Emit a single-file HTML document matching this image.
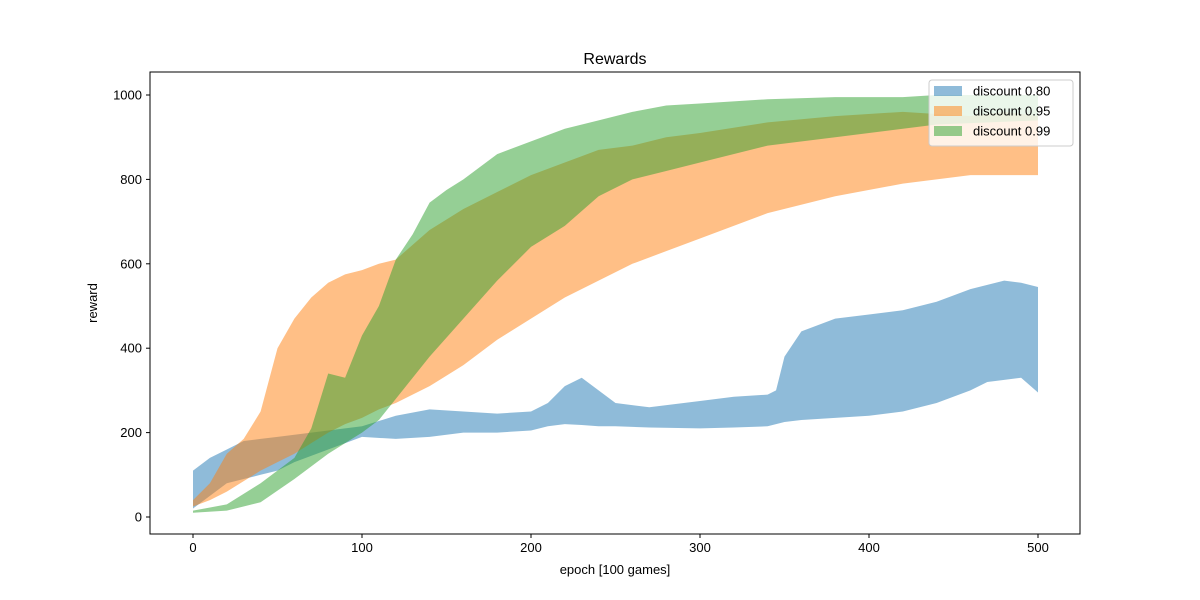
<!DOCTYPE html>
<html><head><meta charset="utf-8"><title>Rewards</title>
<style>
html,body{margin:0;padding:0;background:#fff;}
svg{display:block;font-family:"Liberation Sans","DejaVu Sans",sans-serif;}
</style></head>
<body>
<svg id="chart" width="1200" height="600" viewBox="0 0 1200 600"></svg>
<script>
const xTicks = [0,100,200,300,400,500];
const yTicks = [0,200,400,600,800,1000];
const seriesNames = ["discount 0.80","discount 0.95","discount 0.99"];
const blueX = [0,10,20,30,40,50,60,80,100,120,140,160,180,200,210,220,230,240,250,270,300,320,340,345,350,360,380,400,420,440,460,470,480,490,500];
const blueUpper = [110,140,160,180,185,190,195,205,215,240,255,250,245,250,270,310,330,300,270,260,275,285,290,300,380,440,470,480,490,510,540,550,560,555,545];
const blueLower = [20,50,80,90,100,110,130,160,190,185,190,200,200,205,215,220,218,215,215,212,210,212,215,220,225,230,235,240,250,270,300,320,325,330,295];
const orangeX = [0,10,20,30,40,50,60,70,80,90,100,110,120,140,160,180,200,220,240,260,280,300,340,380,420,460,480,500];
const orangeUpper = [40,80,150,185,250,400,470,520,555,575,585,600,610,680,730,770,810,840,870,880,900,910,935,950,960,950,960,950];
const orangeLower = [25,40,60,85,110,130,150,175,200,220,235,255,270,310,360,420,470,520,560,600,630,660,720,760,790,810,810,810];
const greenX = [0,20,40,60,70,80,90,100,110,120,130,140,150,160,180,200,220,240,260,280,300,340,380,420,440,500];
const greenUpper = [15,30,80,140,210,340,330,430,500,610,670,745,775,800,860,890,920,940,960,975,980,990,995,995,1000,1000];
const greenLower = [10,15,35,90,120,150,175,200,230,280,330,380,425,470,560,640,690,760,800,820,840,880,900,920,930,940];

const NS="http://www.w3.org/2000/svg";
const svg=document.getElementById('chart');
const L=150,R=1080,T=72,B=534;
const sx=v=>193+v*(1038-193)/500;
const sy=v=>517-v*(517-95)/1000;
function el(tag,attrs,parent){const e=document.createElementNS(NS,tag);for(const k in attrs)e.setAttribute(k,attrs[k]);(parent||svg).appendChild(e);return e;}

const bands=[[blueX,blueUpper,blueLower,"#1f77b4"],[orangeX,orangeUpper,orangeLower,"#ff7f0e"],[greenX,greenUpper,greenLower,"#2ca02c"]];
bands.forEach((b,i)=>{
  const [xs,up,lo,c]=b;
  let d="M"+xs.map((x,j)=>sx(x)+","+sy(up[j])).join("L");
  for(let j=xs.length-1;j>=0;j--) d+="L"+sx(xs[j])+","+sy(lo[j]);
  d+="Z";
  const p=el('path',{d:d,fill:c,'fill-opacity':0.5,stroke:'none'});
  
  
});

const frame=el('rect',{x:L,y:T,width:R-L,height:B-T,fill:'none',stroke:'#000','stroke-width':1});



xTicks.forEach(v=>{
  el('line',{x1:sx(v),x2:sx(v),y1:B,y2:B+4,stroke:'#000'});
  const t=el('text',{x:sx(v),y:B+18,'text-anchor':'middle','font-size':13});
  t.textContent=v;
  
  
});
yTicks.forEach(v=>{
  el('line',{x1:L-4,x2:L,y1:sy(v),y2:sy(v),stroke:'#000'});
  const t=el('text',{x:L-8,y:sy(v)+4.5,'text-anchor':'end','font-size':13});
  t.textContent=v;
  
  
});

const title=el('text',{x:615,y:64,'text-anchor':'middle','font-size':16});
title.textContent="Rewards";


const xl=el('text',{x:615,y:574,'text-anchor':'middle','font-size':13});
xl.textContent="epoch [100 games]";


const yl=el('text',{x:97,y:303,'text-anchor':'middle','font-size':13,transform:'rotate(-90 97 303)'});
yl.textContent="reward";



const lg=el('g',{});


el('rect',{x:929,y:80,width:144,height:66,rx:3,fill:'#fff','fill-opacity':0.8,stroke:'#ccc'},lg);
seriesNames.forEach((n,i)=>{
  const y=91+i*20;
  const r=el('rect',{x:934,y:y-5,width:28,height:10,fill:bands[i][3],'fill-opacity':0.5},lg);
  
  
  const t=el('text',{x:973,y:y+4.5,'font-size':13},lg);
  t.textContent=n;
  
  
});
</script>
</body></html>
